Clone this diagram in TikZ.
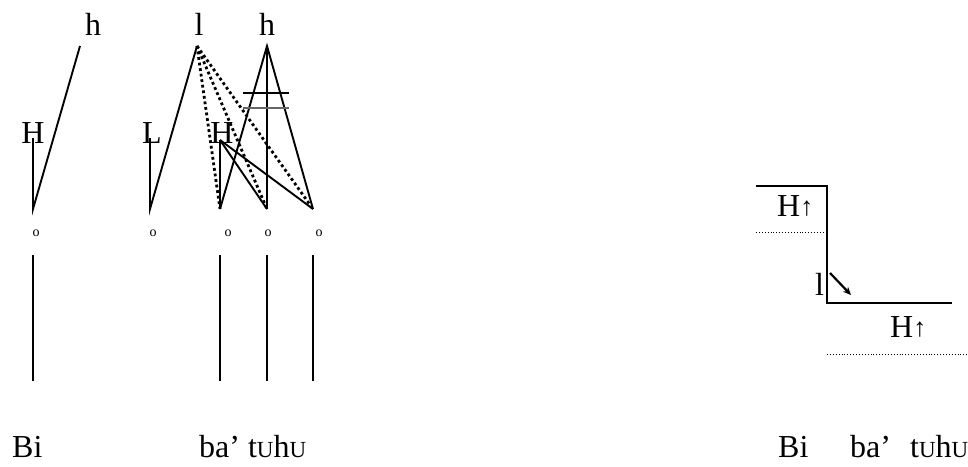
\documentclass[tikz,border=0pt]{standalone}
\usepackage{fontspec}
\setmainfont{Liberation Serif}
\usepackage{tikz}
\usetikzlibrary{arrows.meta,positioning,calc}

\newcommand{\smU}{{\fontsize{23}{26}\selectfont U}}
\newcommand{\upar}{\raisebox{1pt}{\fontsize{26}{28}\selectfont↑}}

\begin{document}
\begin{tikzpicture}[
  x=1pt, y=-1pt,
  tone/.style={inner sep=0pt, anchor=base, font=\fontsize{32}{36}\selectfont},
  mora/.style={inner sep=0pt, anchor=base, font=\fontsize{14}{16}\selectfont},
  word/.style={inner sep=0pt, anchor=base west, font=\fontsize{32}{36}\selectfont},
  assoc/.style={line width=1.9pt},
  spread/.style={line width=2.8pt, dash pattern=on 2.8pt off 2.8pt},
  level/.style={line width=0.9pt, dotted},
  arrow/.style={-{Stealth[length=8pt,width=7pt]}, line width=2.2pt}
]
\useasboundingbox (0,0) rectangle (968,466);

% Tones (upper tier)
\node[tone] (h1) at (93,35) {h};
\node[tone] (l1) at (199,35) {l};
\node[tone] (h2) at (267,35) {h};
\coordinate (h1a) at (80,46);
\coordinate (l1a) at (197,46);
\coordinate (h2a) at (267,46);

% Tones (lower tier)
\node[tone] (H1) at (33,143) {H};
\node[tone] (L1) at (152,143) {L};
\node[tone] (H2) at (222,143) {H};
\coordinate (H1a) at (33,138);
\coordinate (L1a) at (150,138);
\coordinate (H2a) at (220,140);

% Tone-bearing units
\coordinate (p1) at (33,209);
\coordinate (p2) at (150,209);
\coordinate (p3) at (220,209);
\coordinate (p4) at (267,209);
\coordinate (p5) at (313,209);

\draw[assoc] (H1a) -- (p1) -- (h1a);
\draw[assoc] (L1a) -- (p2) -- (l1a);
\draw[assoc] (H2a) -- (p3);
\draw[assoc] (H2a) -- (p4);
\draw[assoc] (H2a) -- (p5);
\draw[assoc] (p3) -- (h2a) -- (p5);
\draw[assoc] (h2a) -- (p4);

% Spreading of l
\draw[spread] (l1a) -- (p3);
\draw[spread] (l1a) -- (p4);
\draw[spread] (l1a) -- (p5);

% Delinking bars
\draw[line width=2.6pt] (243,93) -- (289,93);
\draw[line width=1.3pt, black!60] (243,108) -- (289,108);

% Moras
\node[mora] (o1) at (36,236) {o};
\node[mora] (o2) at (153,236) {o};
\node[mora] (o3) at (228,236) {o};
\node[mora] (o4) at (268,236) {o};
\node[mora] (o5) at (319,236) {o};

% Segments
\coordinate (s1) at (33,255);
\coordinate (t1) at (33,381);
\coordinate (s3) at (220,255);
\coordinate (t3) at (220,381);
\coordinate (s4) at (267,255);
\coordinate (t4) at (267,381);
\coordinate (s5) at (313,255);
\coordinate (t5) at (313,381);
\draw[assoc] (s1) -- (t1);
\draw[assoc] (s3) -- (t3);
\draw[assoc] (s4) -- (t4);
\draw[assoc] (s5) -- (t5);

\node[word] (bi) at (12,457) {Bi};
\node[word] (batuhu) at (199,457) {ba’ t\smU h\smU};

% Pitch contour
\coordinate (c1) at (756,186);
\coordinate (c2) at (827,186);
\coordinate (c3) at (827,303);
\coordinate (c4) at (952,303);
\draw[assoc] (c1) -- (c2) -- (c3) -- (c4);

\node[word] (Hup1) at (777,216) {H\upar};
\coordinate (d1) at (756,232);
\coordinate (d2) at (826,232);
\draw[level] (d1) -- (d2);

\node[word] (lo) at (815,295) {l};
\coordinate (a1) at (830,273);
\coordinate (a2) at (851,295);
\draw[arrow] (a1) -- (a2);

\node[word] (Hup2) at (890,337) {H\upar};
\coordinate (d3) at (827,354);
\coordinate (d4) at (968,354);
\draw[level] (d3) -- (d4);

\node[word] (bi2) at (778,457) {Bi};
\node[word] (ba2) at (850,457) {ba’};
\node[word] (tuhu2) at (910,457) {t\smU h\smU};

\end{tikzpicture}
\end{document}
